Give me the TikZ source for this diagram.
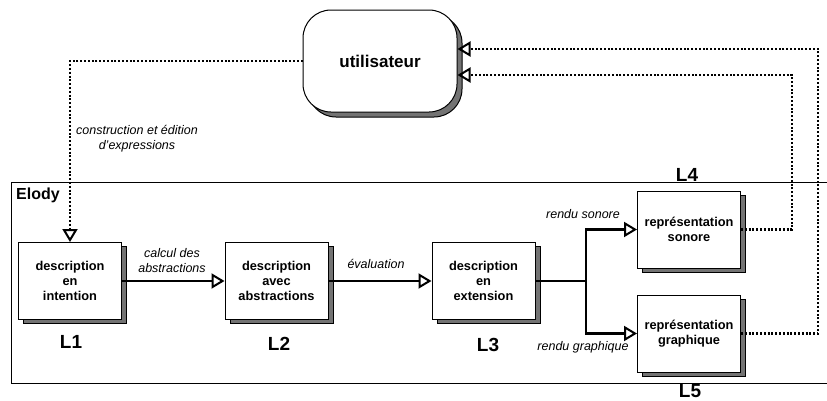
\documentclass[tikz,border=0pt]{standalone}
\usepackage{fontspec}
\setmainfont{Liberation Sans}
\usetikzlibrary{arrows.meta,shadows}
\begin{document}
\begin{tikzpicture}[x=1pt,y=-1pt,
  shad/.style={drop shadow={shadow xshift=5pt, shadow yshift=-4pt, fill=black!55, draw=black, opacity=1}},
  box/.style={draw, line width=1pt, fill=white, minimum width=103pt, minimum height=77pt,
    align=center, inner sep=0pt, font=\bfseries\fontsize{12.8}{15}\selectfont, shad},
  lvl/.style={font=\bfseries\fontsize{19}{20}\selectfont, inner sep=0pt},
  lab/.style={font=\itshape\fontsize{12.5}{15}\selectfont, align=center, inner sep=0pt},
  tip/.style={-{Triangle[open, length=13pt, width=15pt, line width=2pt]}},
  flow/.style={line width=2.2pt, tip},
  dots/.style={line width=2.2pt, dash pattern=on 2pt off 1.8pt, tip}]
\useasboundingbox (0,0) rectangle (827,400);
% Elody frame
\draw[line width=1pt] (827,182) -| (11,383) -- (827,383);
\node[font=\bfseries\fontsize{16}{18}\selectfont, inner sep=0pt] (elody) at (38,195) {Elody};
% user
\node[draw, line width=1pt, fill=white, rounded corners=28pt, minimum width=154pt, minimum height=102pt,
  font=\bfseries\fontsize{17}{20}\selectfont,
  drop shadow={shadow xshift=5pt, shadow yshift=-5pt, fill=black!55, draw=black, opacity=1}] (user) at (380,61) {utilisateur};
% boxes
\node[box] (l1) at (70,281) {description\\en\\intention};
\node[box] (l2) at (276.5,281) {description\\avec\\abstractions};
\node[box] (l3) at (483.5,281) {description\\en\\extension};
\node[box] (l4) at (689,229.5) {représentation\\sonore};
\node[box] (l5) at (689,333.5) {représentation\\graphique};
% level labels
\node[lvl] (t1) at (71,342) {L1};
\node[lvl] (t2) at (279,344) {L2};
\node[lvl] (t3) at (488,345) {L3};
\node[lvl] (t4) at (687,175) {L4};
\node[lvl] (t5) at (690,391) {L5};
% flows
\draw[flow] (l1.east) -- (l2.west);
\draw[flow] (l2.east) -- (l3.west);
\coordinate (j) at (586,281);
\draw[line width=2.2pt] (l3.east) -- (j);
\draw[flow] (j) |- (l4.west);
\draw[flow] (j) |- (l5.west);
\node[lab] (a1) at (172,261) {calcul des\\abstractions};
\node[lab] (a2) at (376,264) {évaluation};
\node[lab] (a3) at (583,214) {rendu sonore};
\node[lab] (a4) at (583,347) {rendu graphique};
% dotted connections
\draw[dots] (user.west) -| (l1.north);
\node[lab] (a5) at (137,139) {construction et édition\\d'expressions};
\coordinate (c4) at (792,75);
\coordinate (c5) at (818,49);
\draw[dots] (l4.east) -| (c4) -- (user.east |- c4);
\draw[dots] (l5.east) -| (c5) -- (user.east |- c5);
\end{tikzpicture}
\end{document}
